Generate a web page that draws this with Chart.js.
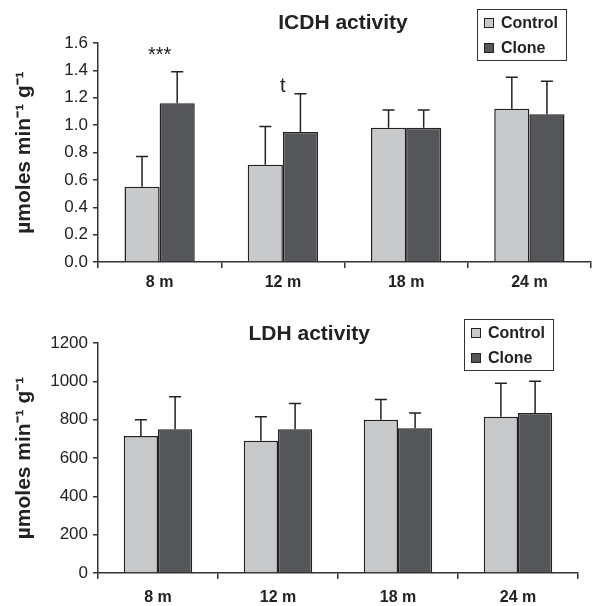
<!DOCTYPE html>
<html>
<head>
<meta charset="utf-8">
<script src="https://cdn.jsdelivr.net/npm/chart.js@4/dist/chart.umd.min.js"></script>
<style>
    html, body { margin: 0; padding: 0; background: #fff; }
    .panel { width: 592px; height: 303px; position: relative; }
</style>
</head>
<body>
<div class="panel"><canvas id="icdh" width="592" height="303"></canvas></div>
<div class="panel"><canvas id="ldh" width="592" height="303"></canvas></div>
<script>
// Age groups (months)
const categories = ['8 m', '12 m', '18 m', '24 m'];

// ICDH activity
const icdhControl = [0.55, 0.71, 0.98, 1.12];
const icdhControlErr = [0.77, 0.99, 1.11, 1.35];
const icdhClone = [1.16, 0.95, 0.98, 1.08];
const icdhCloneErr = [1.39, 1.23, 1.11, 1.32];
const icdhTicks = [0, 0.2, 0.4, 0.6, 0.8, 1.0, 1.2, 1.4, 1.6];
const icdhSigText = ['***', 't', '', ''];
const icdhSigValue = [1.47, 1.24, 0, 0];

// LDH activity
const ldhControl = [715, 690, 800, 815];
const ldhControlErr = [800, 815, 905, 990];
const ldhClone = [750, 750, 755, 835];
const ldhCloneErr = [920, 885, 835, 1000];
const ldhTicks = [0, 200, 400, 600, 800, 1000, 1200];

const FONT = '"Liberation Sans", Arial, Helvetica, sans-serif';
const INK = '#222';
const CONTROL_COLOR = '#c8c9cb';
const CLONE_COLOR = '#55565a';

// upward-only error bars with a cap
const errorBarPlugin = {
    id: 'errorBars',
    afterDatasetsDraw(chart) {
        const ctx = chart.ctx;
        const yScale = chart.scales.y;
        ctx.save();
        ctx.strokeStyle = INK;
        ctx.lineWidth = 1.5;
        chart.data.datasets.forEach((ds, i) => {
            const meta = chart.getDatasetMeta(i);
            meta.data.forEach((bar, j) => {
                const top = yScale.getPixelForValue(ds.errTop[j]);
                ctx.beginPath();
                ctx.moveTo(bar.x, bar.y);
                ctx.lineTo(bar.x, top);
                ctx.moveTo(bar.x - 6, top);
                ctx.lineTo(bar.x + 6, top);
                ctx.stroke();
            });
        });
        ctx.restore();
    }
};

const panelTitlePlugin = {
    id: 'panelTitle',
    afterDraw(chart, args, opts) {
        const ctx = chart.ctx;
        const area = chart.chartArea;
        ctx.save();
        ctx.font = 'bold 21px ' + FONT;
        ctx.fillStyle = INK;
        ctx.textAlign = 'center';
        ctx.textBaseline = 'middle';
        ctx.fillText(opts.text, area.left + opts.pos * (area.right - area.left), opts.y);
        ctx.restore();
    }
};

const boxLegendPlugin = {
    id: 'boxLegend',
    afterDraw(chart, args, opts) {
        const ctx = chart.ctx;
        const w = 89, h = 51;
        const x = chart.chartArea.right - opts.right - w;
        const y = opts.top;
        ctx.save();
        ctx.strokeStyle = '#333';
        ctx.lineWidth = 1;
        ctx.strokeRect(x + 0.5, y + 0.5, w, h);
        ctx.font = 'bold 16px ' + FONT;
        ctx.textBaseline = 'middle';
        chart.data.datasets.forEach((ds, i) => {
            const cy = y + 14 + i * 25;
            ctx.fillStyle = ds.backgroundColor;
            ctx.fillRect(x + 7, cy - 5, 10, 10);
            ctx.strokeStyle = INK;
            ctx.strokeRect(x + 7.5, cy - 4.5, 9, 9);
            ctx.fillStyle = INK;
            ctx.fillText(ds.label, x + 24, cy + 1);
        });
        ctx.restore();
    }
};

const sigPlugin = {
    id: 'sigMarks',
    afterDraw(chart, args, opts) {
        if (!opts.text) return;
        const ctx = chart.ctx;
        ctx.save();
        ctx.font = '20px ' + FONT;
        ctx.fillStyle = INK;
        ctx.textAlign = 'center';
        ctx.textBaseline = 'alphabetic';
        opts.text.forEach((t, i) => {
            if (!t) return;
            const x = chart.scales.x.getPixelForValue(i);
            const y = chart.scales.y.getPixelForValue(opts.value[i]);
            ctx.fillText(t, x, y);
        });
        ctx.restore();
    }
};

function makeChart(id, cfg) {
    const el = document.getElementById(id);
    return new Chart(el, {
        type: 'bar',
        data: {
            labels: categories,
            datasets: [{
                label: 'Control',
                data: cfg.control,
                errTop: cfg.controlErr,
                backgroundColor: CONTROL_COLOR,
                borderColor: INK,
                borderWidth: 1.5
            }, {
                label: 'Clone',
                data: cfg.clone,
                errTop: cfg.cloneErr,
                backgroundColor: CLONE_COLOR,
                borderColor: INK,
                borderWidth: 1.5
            }]
        },
        options: {
            responsive: false,
            animation: false,
            barPercentage: 1.0,
            categoryPercentage: 0.57,
            layout: {
                padding: { top: cfg.top, right: cfg.right, left: 0, bottom: 0 }
            },
            plugins: {
                legend: { display: false },
                tooltip: { enabled: false },
                panelTitle: { text: cfg.title, pos: cfg.titlePos, y: cfg.titleY },
                boxLegend: { top: cfg.legendTop, right: 25 },
                sigMarks: { text: cfg.sigText, value: cfg.sigValue }
            },
            scales: {
                x: {
                    afterFit: s => { s.height = cfg.xHeight; },
                    border: { color: '#333', width: 1.5 },
                    grid: { drawOnChartArea: false, drawTicks: true, tickLength: 6, color: '#333', lineWidth: 1.5 },
                    ticks: {
                        color: INK,
                        padding: cfg.xPad,
                        font: { family: FONT, size: 16, weight: 'bold' }
                    }
                },
                y: {
                    min: 0,
                    max: cfg.ticks[cfg.ticks.length - 1],
                    afterFit: s => { s.width = 98; },
                    afterBuildTicks: s => { s.ticks = cfg.ticks.map(v => ({ value: v })); },
                    border: { color: '#333', width: 1.5 },
                    grid: { drawOnChartArea: false, drawTicks: true, tickLength: 5, color: '#333', lineWidth: 1.5 },
                    ticks: {
                        color: INK,
                        padding: 5,
                        font: { family: FONT, size: 17 },
                        callback: v => cfg.fmt(v)
                    },
                    title: {
                        display: true,
                        text: 'µmoles min⁻¹ g⁻¹',
                        color: INK,
                        padding: { top: 12, bottom: 0 },
                        font: { family: FONT, size: 21, weight: 'bold' }
                    }
                }
            }
        },
        plugins: [errorBarPlugin, panelTitlePlugin, boxLegendPlugin, sigPlugin]
    });
}

makeChart('icdh', {
    control: icdhControl, controlErr: icdhControlErr,
    clone: icdhClone, cloneErr: icdhCloneErr,
    ticks: icdhTicks, fmt: v => v.toFixed(1),
    title: 'ICDH activity', titlePos: 0.497, titleY: 23,
    sigText: icdhSigText, sigValue: icdhSigValue,
    top: 43, right: 1, xHeight: 41, xPad: 5, legendTop: 9
});

makeChart('ldh', {
    control: ldhControl, controlErr: ldhControlErr,
    clone: ldhClone, cloneErr: ldhCloneErr,
    ticks: ldhTicks, fmt: v => String(v),
    title: 'LDH activity', titlePos: 0.44, titleY: 31,
    sigText: null, sigValue: null,
    top: 40, right: 14, xHeight: 33, xPad: 9, legendTop: 16
});
</script>
</body>
</html>
